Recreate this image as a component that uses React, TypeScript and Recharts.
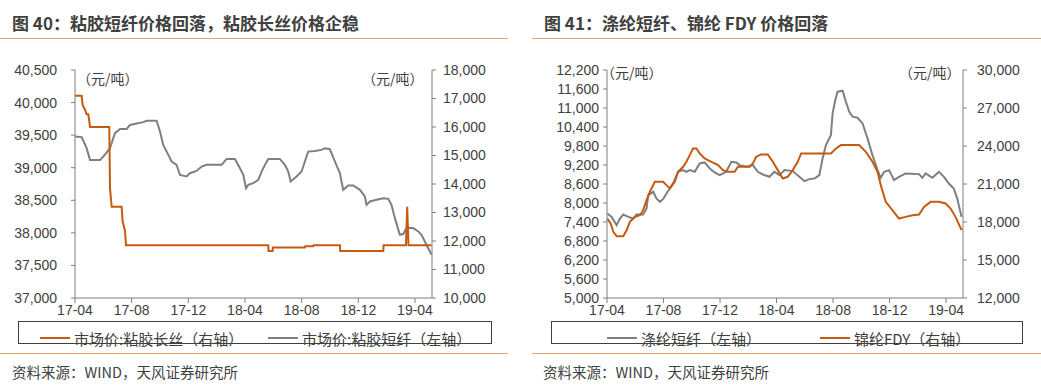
import React from 'react';
import { LineChart, Line, XAxis, YAxis } from 'recharts';

// x = months since 2017-04
const xTickLabels = ['17-04', '17-08', '17-12', '18-04', '18-08', '18-12', '19-04'];
const xTickPositions = [0, 4, 8, 12, 16, 20, 24];

// Figure 40 — 粘胶短纤 (left axis), 粘胶长丝 (right axis)
const viscoseStaple: [number, number][] = [
  [0, 39480], [0.47, 39470], [0.82, 39300], [1.06, 39120], [1.76, 39120], [2.0, 39170], [2.47, 39300],
  [2.82, 39530], [3.18, 39595], [3.65, 39595], [3.88, 39657], [4.35, 39680], [4.82, 39700], [5.06, 39720],
  [5.76, 39720], [6.0, 39555], [6.23, 39350], [6.59, 39197], [6.82, 39095], [7.17, 39044], [7.41, 38890],
  [7.88, 38865], [8.11, 38916], [8.58, 38950], [8.94, 39018], [9.29, 39044], [10.35, 39044], [10.7, 39135],
  [11.29, 39135], [11.64, 38993], [11.88, 38890], [12.07, 38686], [12.23, 38737], [12.58, 38763],
  [12.94, 38814], [13.17, 38941], [13.41, 39044], [13.64, 39135], [14.46, 39135], [14.82, 39044],
  [15.05, 38941], [15.22, 38788], [15.64, 38865], [15.99, 38941], [16.23, 39095], [16.46, 39248],
  [16.93, 39258], [17.4, 39274], [17.64, 39299], [17.99, 39284], [18.35, 39095], [18.7, 38916],
  [18.93, 38660], [19.29, 38727], [19.64, 38727], [20.11, 38660], [20.46, 38558], [20.58, 38430],
  [20.82, 38481], [21.29, 38507], [21.76, 38532], [22.11, 38522], [22.34, 38430], [22.58, 38226],
  [22.93, 37971], [23.17, 37981], [23.4, 38073], [23.87, 38073], [24.23, 38022], [24.46, 37971],
  [24.81, 37818], [25.17, 37665],
];
const viscoseFilament: [number, number][] = [
  [0, 17100], [0.47, 17100], [0.54, 16770], [0.71, 16600], [0.82, 16450], [0.94, 16450], [1.06, 16000],
  [2.42, 16000], [2.47, 13850], [2.59, 13200], [3.29, 13200], [3.36, 12700], [3.53, 12350], [3.6, 11850],
  [13.64, 11850], [13.66, 11650], [13.95, 11650], [13.97, 11770], [16.23, 11770], [16.25, 11820],
  [16.82, 11820], [16.84, 11850], [18.7, 11850], [18.72, 11650], [21.76, 11650], [21.78, 11850],
  [23.36, 11850], [23.45, 13200], [23.54, 11850], [25.17, 11850],
];

// Figure 41 — 涤纶短纤 (left axis), 锦纶FDY (right axis)
const polyesterStaple: [number, number][] = [
  [0.02, 7668], [0.33, 7562], [0.68, 7299], [0.92, 7510], [1.15, 7636], [1.51, 7562], [1.86, 7510],
  [2.09, 7636], [2.56, 7636], [2.8, 7826], [2.92, 8247], [3.27, 8353], [3.5, 8142], [3.74, 8037],
  [3.97, 8121], [4.21, 8300], [4.45, 8458], [4.73, 8669], [5.03, 8985], [5.39, 9038], [5.62, 8985],
  [5.86, 9038], [6.21, 8985], [6.56, 9249], [6.91, 9280], [7.27, 9091], [7.62, 8964], [7.97, 8880],
  [8.44, 8985], [8.8, 9301], [9.15, 9280], [9.38, 9196], [9.86, 9144], [10.33, 9196], [10.68, 8985],
  [11.03, 8901], [11.5, 8827], [11.85, 8985], [12.21, 8880], [12.56, 9038], [13.15, 9007], [13.62, 8827],
  [13.97, 8690], [14.32, 8754], [14.68, 8775], [15.03, 8880], [15.26, 9407], [15.5, 9829], [15.85, 10145],
  [15.97, 10830], [16.16, 11252], [16.32, 11515], [16.68, 11547], [16.91, 11199], [17.15, 10883],
  [17.38, 10725], [17.73, 10693], [18.09, 10514], [18.44, 10040], [18.79, 9512], [19.15, 9038],
  [19.38, 8796], [19.62, 8985], [19.97, 9038], [20.32, 8722], [20.67, 8827], [21.14, 8933], [22.09, 8912],
  [22.32, 8796], [22.56, 8933], [23.03, 8796], [23.5, 8985], [23.85, 8827], [24.2, 8616], [24.55, 8458],
  [24.79, 8142], [25.1, 7562],
];
const nylonFDY: [number, number][] = [
  [0.02, 18274], [0.26, 17879], [0.45, 17220], [0.68, 16878], [1.15, 16878], [1.39, 17352], [1.62, 18011],
  [1.98, 18406], [2.33, 18538], [2.56, 18933], [2.8, 19724], [3.03, 20382], [3.39, 21173], [3.97, 21173],
  [4.21, 20909], [4.45, 20646], [4.8, 21173], [5.03, 21963], [5.39, 22358], [5.62, 22754], [5.86, 23281],
  [6.09, 23808], [6.33, 23808], [6.56, 23413], [6.91, 23017], [7.39, 22754], [7.86, 22490], [8.21, 22095],
  [8.56, 21963], [9.03, 21963], [9.27, 22358], [10.09, 22358], [10.33, 22622], [10.56, 23149],
  [10.91, 23333], [11.38, 23333], [11.74, 22754], [12.09, 22095], [12.44, 21436], [12.79, 21568],
  [13.15, 22095], [13.5, 22754], [13.74, 23413], [15.85, 23413], [16.21, 23808], [16.56, 24071],
  [17.85, 24071], [18.32, 23544], [18.79, 22754], [19.15, 21963], [19.38, 20909], [19.73, 19592],
  [20.2, 18933], [20.67, 18274], [21.14, 18406], [21.62, 18538], [22.09, 18590], [22.44, 19196],
  [22.91, 19592], [23.5, 19592], [23.97, 19460], [24.32, 19065], [24.67, 18406], [25.1, 17352],
];

const leftTicksA = [37000, 37500, 38000, 38500, 39000, 39500, 40000, 40500];
const rightTicksA = [10000, 11000, 12000, 13000, 14000, 15000, 16000, 17000, 18000];
const leftTicksB = [5000, 5600, 6200, 6800, 7400, 8000, 8600, 9200, 9800, 10400, 11000, 11600, 12200];
const rightTicksB = [12000, 15000, 18000, 21000, 24000, 27000, 30000];

const ORANGE = '#C55A11';
const GRAY = '#7F7F7F';
const AXIS = '#7F7F7F';
const TEXT = '#404040';
const RULE = '#E9A56B';
const NUM_FONT = '"Liberation Sans", Arial, sans-serif';
const CJK_FONT = '"Noto Sans CJK SC", "Liberation Sans", sans-serif';

const toRows = (pts: [number, number][]) => pts.map(([m, v]) => ({ m, v }));
const fmt = (v: number) => v.toLocaleString('en-US');
const tickStyle = { fill: TEXT, fontSize: 14, fontFamily: NUM_FONT };

const abs = (left: number, top: number, extra: React.CSSProperties = {}): React.CSSProperties => ({
  position: 'absolute', left, top, ...extra,
});

function LegendItem({ color, label }: { color: string; label: string }) {
  return (
    <span style={{ display: 'inline-flex', alignItems: 'center' }}>
      <span style={{ display: 'inline-block', width: 30, height: 2, background: color, marginRight: 4 }} />
      <span>{label}</span>
    </span>
  );
}

const unitStyle: React.CSSProperties = { fontSize: 14, lineHeight: '20px', whiteSpace: 'nowrap' };

export default function App() {
  const xAxisCommon = {
    xAxisId: 0,
    dataKey: 'm',
    type: 'number' as const,
    domain: [0, 25.2],
    ticks: xTickPositions,
    tickFormatter: (t: number) => xTickLabels[xTickPositions.indexOf(t)] ?? '',
    height: 27,
    tickSize: 5,
    tickMargin: 2,
    stroke: AXIS,
    tick: tickStyle,
    allowDataOverflow: true,
    interval: 0 as const,
  };
  return (
    <div style={{ position: 'absolute', left: 0, top: 0, width: 1041, height: 391, background: '#fff', overflow: 'hidden', fontFamily: CJK_FONT, color: TEXT }}>
      {/* Titles */}
      <div style={abs(12, 12, { fontSize: 17, fontWeight: 700, lineHeight: '22px', whiteSpace: 'nowrap' })}>图 40：粘胶短纤价格回落，粘胶长丝价格企稳</div>
      <div style={abs(544, 12, { fontSize: 17, fontWeight: 700, lineHeight: '22px', whiteSpace: 'nowrap' })}>图 41：涤纶短纤、锦纶 FDY 价格回落</div>
      <div style={abs(0, 38, { width: 508, height: 1, background: RULE })} />
      <div style={abs(532, 38, { width: 509, height: 1, background: RULE })} />

      {/* Chart 40 */}
      <div style={abs(0, 55)}>
        <LineChart width={520} height={270} margin={{ top: 15, right: 0, left: 0, bottom: 0 }}>
          <XAxis {...xAxisCommon} />
          <YAxis yAxisId="l" orientation="left" width={75} domain={[37000, 40500]} ticks={leftTicksA}
            tickFormatter={fmt} stroke={AXIS} tick={tickStyle} tickSize={4} tickMargin={14} interval={0} />
          <YAxis yAxisId="r" orientation="right" width={88} domain={[10000, 18000]} ticks={rightTicksA}
            tickFormatter={fmt} stroke={AXIS} tick={tickStyle} tickSize={4} tickMargin={7} interval={0} />
          <Line yAxisId="l" data={toRows(viscoseStaple)} dataKey="v" stroke={GRAY} strokeWidth={2} dot={false} isAnimationActive={false} type="linear" />
          <Line yAxisId="r" data={toRows(viscoseFilament)} dataKey="v" stroke={ORANGE} strokeWidth={2} dot={false} isAnimationActive={false} type="linear" />
        </LineChart>
      </div>
      <div style={abs(77, 68, unitStyle)}>（元/吨）</div>
      <div style={abs(362, 68, unitStyle)}>（元/吨）</div>

      {/* Chart 41 */}
      <div style={abs(520, 55)}>
        <LineChart width={521} height={270} margin={{ top: 15, right: 0, left: 0, bottom: 0 }}>
          <XAxis {...xAxisCommon} />
          <YAxis yAxisId="l" orientation="left" width={87} domain={[5000, 12200]} ticks={leftTicksB}
            tickFormatter={fmt} stroke={AXIS} tick={tickStyle} tickSize={4} tickMargin={4} interval={0} />
          <YAxis yAxisId="r" orientation="right" width={78} domain={[12000, 30000]} ticks={rightTicksB}
            tickFormatter={fmt} stroke={AXIS} tick={tickStyle} tickSize={4} tickMargin={10} interval={0} />
          <Line yAxisId="l" data={toRows(polyesterStaple)} dataKey="v" stroke={GRAY} strokeWidth={2} dot={false} isAnimationActive={false} type="linear" />
          <Line yAxisId="r" data={toRows(nylonFDY)} dataKey="v" stroke={ORANGE} strokeWidth={2} dot={false} isAnimationActive={false} type="linear" />
        </LineChart>
      </div>
      <div style={abs(601, 62, unitStyle)}>（元/吨）</div>
      <div style={abs(899, 62, unitStyle)}>（元/吨）</div>

      {/* Legends */}
      <div style={abs(18, 321, { width: 472, height: 21, border: '1px solid #404040', fontSize: 15, lineHeight: '21px', whiteSpace: 'nowrap' })}>
        <span style={abs(21, 0)}><LegendItem color={ORANGE} label="市场价:粘胶长丝（右轴）" /></span>
        <span style={abs(249, 0)}><LegendItem color={GRAY} label="市场价:粘胶短纤（左轴）" /></span>
      </div>
      <div style={abs(551, 321, { width: 470, height: 21, border: '1px solid #404040', fontSize: 15, lineHeight: '21px', whiteSpace: 'nowrap' })}>
        <span style={abs(55, 0)}><LegendItem color={GRAY} label="涤纶短纤（左轴）" /></span>
        <span style={abs(268, 0)}><LegendItem color={ORANGE} label="锦纶FDY（右轴）" /></span>
      </div>

      {/* Footer */}
      <div style={abs(0, 353, { width: 508, height: 1, background: RULE })} />
      <div style={abs(532, 353, { width: 509, height: 1, background: RULE })} />
      <div style={abs(12, 362, { fontSize: 14.5, lineHeight: '20px', whiteSpace: 'nowrap' })}>资料来源：WIND，天风证券研究所</div>
      <div style={abs(543, 362, { fontSize: 14.5, lineHeight: '20px', whiteSpace: 'nowrap' })}>资料来源：WIND，天风证券研究所</div>
    </div>
  );
}
